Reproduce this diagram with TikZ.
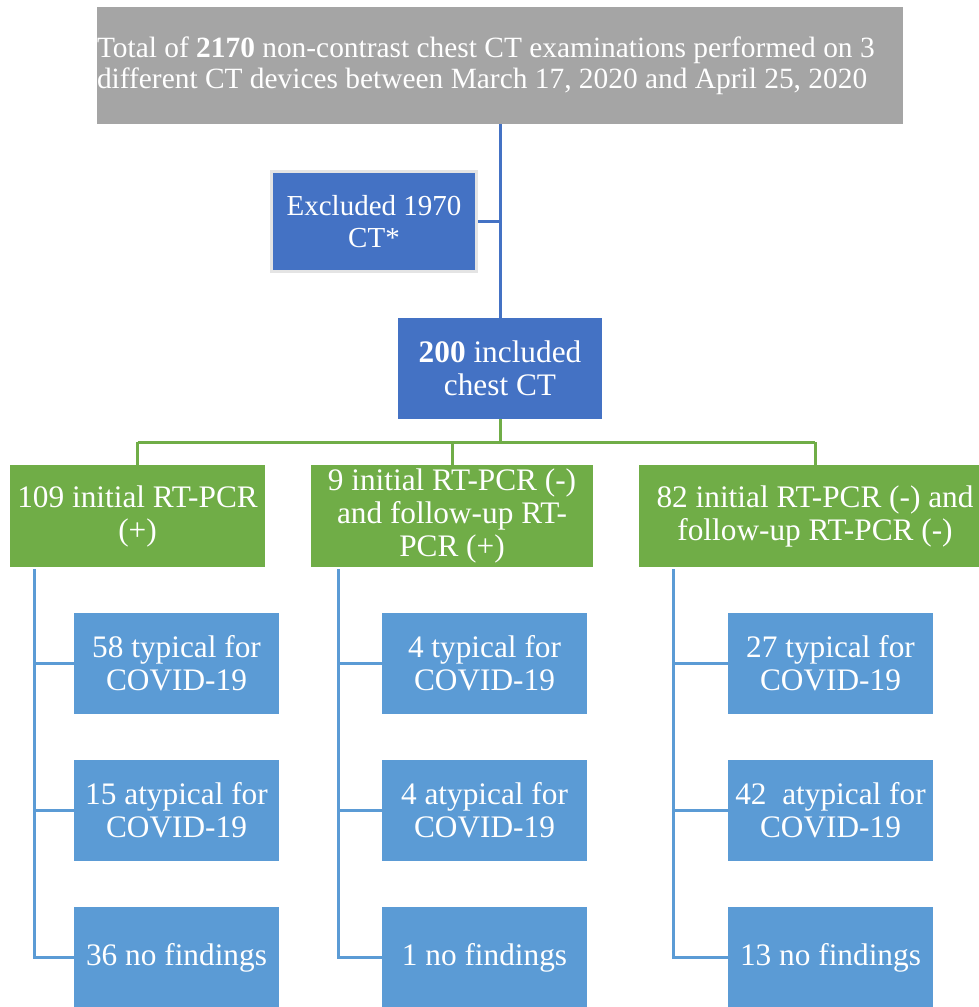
\documentclass[tikz,border=0pt]{standalone}
\usepackage{fontspec}
\setmainfont{Liberation Serif}
\definecolor{cgray}{HTML}{A5A5A5}
\definecolor{cdblue}{HTML}{4472C4}
\definecolor{cgreen}{HTML}{70AD47}
\definecolor{clblue}{HTML}{5B9BD5}
\definecolor{cborder}{HTML}{E4E4E4}
\tikzset{
  box/.style={inner sep=0pt, text=white, align=center, minimum height=101pt,
    font=\fontsize{31.3}{33}\selectfont},
  topbox/.style={box, fill=cgray, text width=806pt, align=flush left, minimum height=117pt,
    font=\fontsize{29.4}{31}\selectfont},
  darkbox/.style={box, fill=cdblue},
  greenbox/.style={box, fill=cgreen, minimum height=102pt},
  leafbox/.style={box, fill=clblue, minimum width=205pt},
  bline/.style={draw=cdblue, line width=3pt},
  gline/.style={draw=cgreen, line width=3pt},
  lline/.style={draw=clblue, line width=3pt},
}
\begin{document}
\begin{tikzpicture}[x=1pt,y=-1pt]
\useasboundingbox (0,0) rectangle (979,1007);
\clip (0,0) rectangle (979,1007);
% nodes
\node[topbox] (top) at (500,65.5) {Total of \textbf{2170} non-contrast chest CT examinations performed on 3 different CT devices between March 17, 2020 and April 25, 2020};
\node[darkbox, minimum width=205pt, minimum height=100pt, draw=cborder, line width=3pt,
  font=\fontsize{29}{32}\selectfont] (excl) at (374,221.5) {Excluded 1970\\CT*};
\node[darkbox, minimum width=204pt] (inc) at (500,368.5) {\textbf{200} included\\chest CT};
\node[greenbox, minimum width=255pt] (g1) at (137.5,516) {109 initial RT-PCR\\(+)};
\node[greenbox, minimum width=282pt] (g2) at (452,516) {9 initial RT-PCR (-)\\and follow-up RT-\\PCR (+)};
\node[greenbox, minimum width=352pt] (g3) at (815,516) {82 initial RT-PCR (-) and\\follow-up RT-PCR (-)};
\node[leafbox] (a1) at (176.5,663.5) {58 typical for\\COVID-19};
\node[leafbox] (a2) at (176.5,810.5) {15 atypical for\\COVID-19};
\node[leafbox] (a3) at (176.5,957.5) {36 no findings};
\node[leafbox] (b1) at (484.5,663.5) {4 typical for\\COVID-19};
\node[leafbox] (b2) at (484.5,810.5) {4 atypical for\\COVID-19};
\node[leafbox] (b3) at (484.5,957.5) {1 no findings};
\node[leafbox] (c1) at (830.5,663.5) {27 typical for\\COVID-19};
\node[leafbox] (c2) at (830.5,810.5) {42\ \ atypical for\\COVID-19};
\node[leafbox] (c3) at (830.5,957.5) {13 no findings};
% connectors top
\draw[bline] (top.south) -- (inc.north);
\draw[bline] (excl.east) -- (excl.east -| top.south);
% green connectors
\coordinate (gh) at (500,442);
\draw[gline] (inc.south) -- (gh);
\draw[gline] (g1.north |- gh) -- (g3.north |- gh);
\draw[gline] (g1.north |- gh) -- (g1.north);
\draw[gline] (g2.north |- gh) -- (g2.north);
\draw[gline] (g3.north |- gh) -- (g3.north);
% leaf connectors
\coordinate (v1) at (34,569);
\coordinate (v2) at (338,569);
\coordinate (v3) at (673,569);
\draw[lline] (v1) |- (a3.west);
\draw[lline] (a1.west) -- (a1.west -| v1);
\draw[lline] (a2.west) -- (a2.west -| v1);
\draw[lline] (v2) |- (b3.west);
\draw[lline] (b1.west) -- (b1.west -| v2);
\draw[lline] (b2.west) -- (b2.west -| v2);
\draw[lline] (v3) |- (c3.west);
\draw[lline] (c1.west) -- (c1.west -| v3);
\draw[lline] (c2.west) -- (c2.west -| v3);
\end{tikzpicture}
\end{document}
